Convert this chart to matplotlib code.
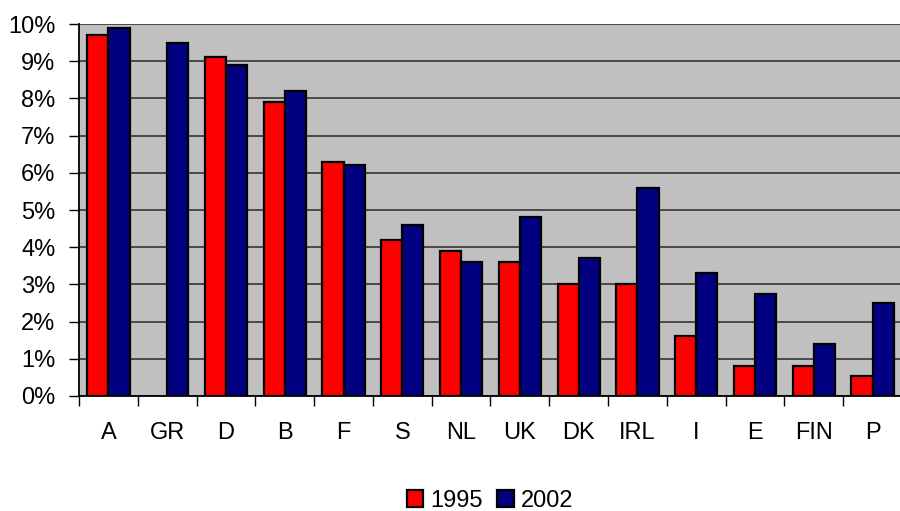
import matplotlib
matplotlib.use("Agg")
import matplotlib.pyplot as plt
import numpy as np
from matplotlib.ticker import FuncFormatter, FixedLocator, NullFormatter

categories = ["A", "GR", "D", "B", "F", "S", "NL", "UK", "DK", "IRL", "I", "E", "FIN", "P"]
v1995 = [9.7, np.nan, 9.1, 7.9, 6.3, 4.2, 3.9, 3.6, 3.0, 3.0, 1.6, 0.8, 0.8, 0.55]
v2002 = [9.9, 9.5, 8.9, 8.2, 6.2, 4.6, 3.6, 4.8, 3.7, 5.6, 3.3, 2.75, 1.4, 2.5]
series_names = ["1995", "2002"]

plt.rcParams['font.family'] = ['Liberation Sans', 'DejaVu Sans']

fig = plt.figure(figsize=(9, 5.11), dpi=100)
ax = fig.add_axes([79/900, 1-396/511, 823/900, (396-24)/511])
ax.set_facecolor("#C0C0C0")

x = np.arange(len(categories))
w = 0.36
ax.bar(x - w/2, v1995, w, color="#FF0000", edgecolor="black", linewidth=1.6, label=series_names[0], zorder=3)
ax.bar(x + w/2, v2002, w, color="#000080", edgecolor="black", linewidth=1.6, label=series_names[1], zorder=3)

ax.set_xlim(-0.5, len(categories) - 0.5)
ax.set_ylim(0, 10)
ax.set_yticks(np.arange(0, 11, 1))
ax.yaxis.set_major_formatter(FuncFormatter(lambda v, p: f"{int(v)}%"))
ax.yaxis.grid(True, color="#404040", linewidth=1.3, zorder=0)
ax.set_axisbelow(True)

ax.xaxis.set_major_locator(FixedLocator(np.arange(-0.5, len(categories), 1)))
ax.xaxis.set_major_formatter(NullFormatter())
ax.xaxis.set_minor_locator(FixedLocator(x))
ax.set_xticklabels(categories, minor=True)
ax.tick_params(axis="x", which="minor", length=0, pad=19, labelsize=17)
ax.tick_params(axis="x", which="major", length=7, width=1, direction="out")
ax.tick_params(axis="y", length=7, width=1, pad=10, labelsize=17)

for s in ["top", "right"]:
    ax.spines[s].set_visible(False)
ax.spines["left"].set_linewidth(1.3)
ax.spines["bottom"].set_linewidth(1.3)

leg = fig.legend(loc="center", bbox_to_anchor=(490/900, 1-501/511), ncol=2, frameon=False,
                 fontsize=17, handlelength=0.7, handleheight=0.7, handletextpad=0.3,
                 columnspacing=0.6, borderaxespad=0)

fig.savefig("out.png", dpi=100)
